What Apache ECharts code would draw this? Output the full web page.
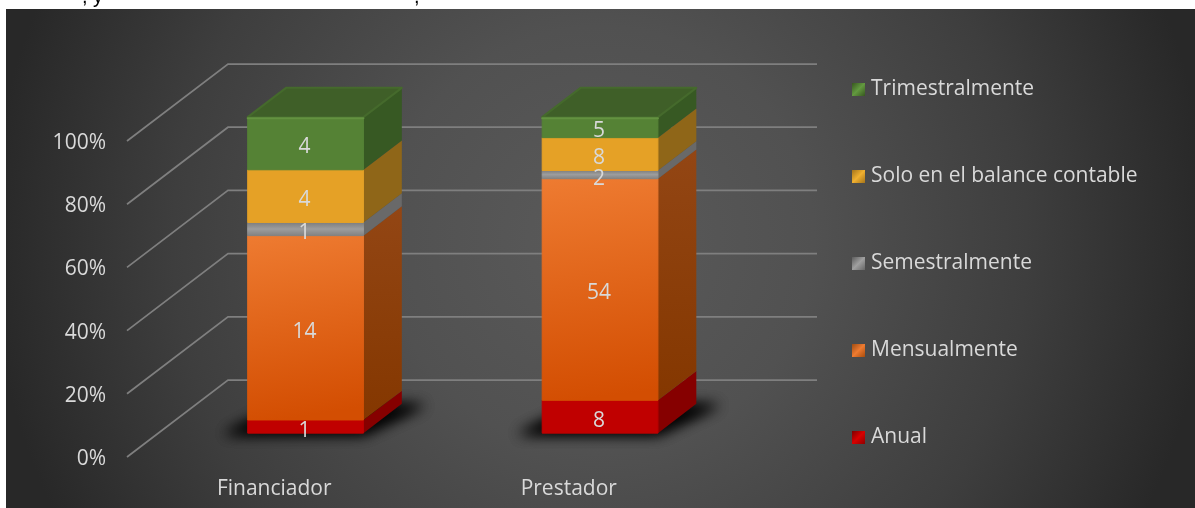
<!DOCTYPE html>
<html>
<head>
<meta charset="utf-8">
<style>html,body{margin:0;padding:0;background:#fff}#c{width:1195px;height:508px}</style>
<script src="https://cdn.jsdelivr.net/npm/echarts@6/dist/echarts.min.js"></script>
</head>
<body>
<div id="c"></div>
<script>
var categories = ['Financiador', 'Prestador'];
var anual = [1, 8];
var mensualmente = [14, 54];
var semestralmente = [1, 2];
var soloBalance = [4, 8];
var trimestralmente = [4, 5];
var yTicks = [0, 0.2, 0.4, 0.6, 0.8, 1];

var FONT = '"Open Sans","Noto Sans",sans-serif';
var TXT = '#d9d9d9';
var DEPTH = [101, -77];
var T0 = 0.31, T1 = 0.69, BAND = 0.393;

function grad(stops, x, y, x2, y2) {
  return new echarts.graphic.LinearGradient(x, y, x2, y2, stops.map(function (c, i) {
    return { offset: stops.length === 1 ? 0 : i / (stops.length - 1), color: c };
  }));
}

var stacks = [
  { name: 'Anual', values: anual,
    legend: grad(['#7c0000', '#d80000', '#8e0000'], 0, 0, 1, 1), front: '#c00000', side: '#860000' },
  { name: 'Mensualmente', values: mensualmente,
    legend: grad(['#a04c12', '#ee7b31', '#a84c0c'], 0, 0, 1, 1),
    front: grad(['#ee7b31', '#d34e02'], 0, 0, 0.25, 1),
    side: grad(['#934614', '#843700'], 0, 0, 0, 1) },
  { name: 'Semestralmente', values: semestralmente,
    legend: grad(['#5c5c5c', '#a0a0a0', '#666666'], 0, 0, 1, 1),
    front: grad(['#7b7b7b', '#9d9d9d', '#808080'], 0, 0, 0, 1), side: '#696969' },
  { name: 'Solo en el balance contable', values: soloBalance,
    legend: grad(['#a5741a', '#f0b030', '#a5741a'], 0, 0, 1, 1), front: '#e5a126', side: '#8f6618' },
  { name: 'Trimestralmente', values: trimestralmente,
    legend: grad(['#37571f', '#639a40', '#37571f'], 0, 0, 1, 1),
    front: '#558235', side: '#375923', top: '#3f5f28', hi: '#639240' }
];

var totals = categories.map(function (_, i) {
  return stacks.reduce(function (s, st) { return s + st.values[i]; }, 0);
});

function pt(base, t) { return [base[0] + DEPTH[0] * t, base[1] + DEPTH[1] * t]; }

function barRender(stackIndex) {
  var st = stacks[stackIndex];
  return function (params, api) {
    var i = api.value(0), v0 = api.value(1), v1 = api.value(2);
    var w = api.size([1, 0])[0] * BAND;
    var cx = api.coord([i, 0])[0];
    var yA = api.coord([i, v0])[1], yB = api.coord([i, v1])[1];
    var L = cx - w / 2, R = cx + w / 2;
    var fBL = pt([L, yA], T0), fBR = pt([R, yA], T0), fTL = pt([L, yB], T0), fTR = pt([R, yB], T0);
    var bBR = pt([R, yA], T1), bTR = pt([R, yB], T1), bTL = pt([L, yB], T1), bBL = pt([L, yA], T1);
    var kids = [];
    if (stackIndex === 0) {
      // soft floor shadow: the shape sits off-canvas, only its blurred shadow lands on the floor
      var shadowPts = [[fBL[0] - 25, fBL[1] + 1], [fBR[0], fBR[1] + 1], [bBR[0] + 24, bBR[1] + 1], [bBL[0], bBL[1]]];
      [0, 1].forEach(function () {
        kids.push({ type: 'polygon', x: -3000, shape: { points: shadowPts },
          style: { fill: '#000', shadowBlur: 14, shadowOffsetX: 3000, shadowColor: 'rgba(0,0,0,0.85)' } });
      });
    }
    kids.push({ type: 'polygon', shape: { points: [fBR, bBR, bTR, fTR] }, style: { fill: st.side } });
    kids.push({ type: 'polygon', shape: { points: [fBL, fBR, fTR, fTL] },
      style: { fill: st.front, stroke: st.front, lineWidth: 1, lineJoin: 'round' } });
    if (st.top) {
      kids.push({ type: 'polygon', shape: { points: [fTL, fTR, bTR, bTL] },
        style: { fill: st.top, stroke: '#456a2c', lineWidth: 2, lineJoin: 'round' } });
      kids.push({ type: 'line', shape: { x1: fTL[0], y1: fTL[1] + 1, x2: fTR[0], y2: fTR[1] + 1 },
        style: { stroke: st.hi, lineWidth: 2, lineCap: 'round' } });
    }
    return { type: 'group', children: kids };
  };
}

var series = [{
  type: 'custom', name: 'grid', silent: true, clip: false, z: 1,
  coordinateSystem: 'cartesian2d',
  data: yTicks.map(function (t) { return [0, t]; }),
  encode: { x: 0, y: 1 },
  renderItem: function (params, api) {
    var cs = params.coordSys;
    var y = api.coord([0, api.value(1)])[1];
    var a = [cs.x, y], b = pt(a, 1), c = [cs.x + cs.width + DEPTH[0], b[1]];
    return { type: 'polyline', shape: { points: [a, b, c] },
      style: { fill: 'none', stroke: '#7f7f7f', lineWidth: 1.75 } };
  }
}];

var labelData = [];
stacks.forEach(function (st, si) {
  var rows = categories.map(function (_, i) {
    var below = 0;
    for (var k = 0; k < si; k++) below += stacks[k].values[i];
    var row = [i, below / totals[i], (below + st.values[i]) / totals[i], st.values[i]];
    labelData.push(row);
    return row;
  });
  series.push({
    type: 'custom', name: st.name, clip: false, z: 3 + si,
    coordinateSystem: 'cartesian2d',
    itemStyle: { color: st.legend },
    encode: { x: 0, y: [1, 2] },
    data: rows,
    renderItem: barRender(si)
  });
});

series.push({
  type: 'custom', name: 'labels', silent: true, clip: false, z: 20,
  coordinateSystem: 'cartesian2d',
  encode: { x: 0, y: [1, 2] },
  data: labelData,
  renderItem: function (params, api) {
    var i = api.value(0);
    var yA = api.coord([i, api.value(1)])[1], yB = api.coord([i, api.value(2)])[1];
    var p = pt([api.coord([i, 0])[0], (yA + yB) / 2], T0);
    return { type: 'text', style: {
      text: String(api.value(3)), x: p[0] - 1, y: p[1] + 4,
      align: 'center', verticalAlign: 'middle', fill: TXT, font: '21px ' + FONT } };
  }
});

var chart = echarts.init(document.getElementById('c'), null, { renderer: 'canvas' });
chart.setOption({
  backgroundColor: '#ffffff',
  animation: false,
  textStyle: { fontFamily: FONT },
  grid: { left: 127, top: 141, width: 589, height: 316, containLabel: false },
  xAxis: {
    type: 'category', data: categories,
    axisLine: { show: false }, axisTick: { show: false }, splitLine: { show: false },
    axisLabel: { color: TXT, fontSize: 21, fontFamily: FONT, margin: 22 }
  },
  yAxis: {
    type: 'value', min: 0, max: 1, interval: 0.2,
    axisLine: { show: false }, axisTick: { show: false }, splitLine: { show: false },
    axisLabel: { color: TXT, margin: 21,
      rich: { p: { color: TXT, fontSize: 21, fontFamily: FONT, padding: [4, 0, 0, 0] } },
      formatter: function (v) { return '{p|' + Math.round(v * 100) + '%}'; } }
  },
  legend: {
    orient: 'vertical', left: 852, top: 79, padding: 0, itemWidth: 13, itemHeight: 13, itemGap: 66,
    icon: 'rect', selectedMode: false,
    data: stacks.map(function (s) { return s.name; }).reverse(),
    textStyle: { color: TXT, fontSize: 21, fontFamily: FONT, padding: [0, 0, 0, 1] }
  },
  graphic: [
    { type: 'text', silent: true, z: -20, left: 82, top: -13,
      style: { text: ', y', fill: '#000', font: '20px "Liberation Sans"' } },
    { type: 'text', silent: true, z: -20, left: 414, top: -13,
      style: { text: ',', fill: '#000', font: '20px "Liberation Sans"' } },
    { type: 'rect', silent: true, z: -10, shape: { x: 6, y: 9, width: 1189, height: 499 },
      style: { fill: { type: 'radial', x: 600, y: 240, r: 610, global: true,
        colorStops: [{ offset: 0, color: '#5a5a5a' }, { offset: 0.35, color: '#515151' },
                     { offset: 0.7, color: '#3e3e3e' }, { offset: 1, color: '#282828' }] } } }
  ],
  series: series
});
</script>
</body>
</html>
